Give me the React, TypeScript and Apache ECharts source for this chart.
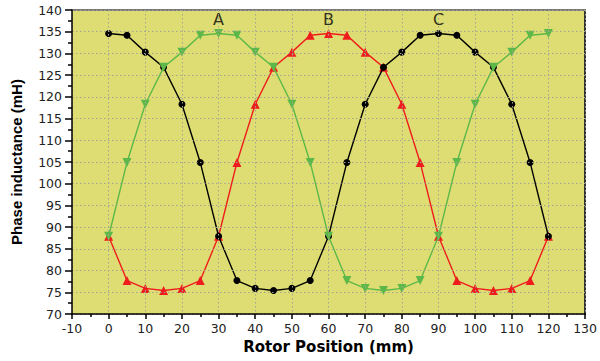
import React, { useEffect, useRef } from "react";
import * as echarts from "echarts";

const positions = [0, 5, 10, 15, 20, 25, 30, 35, 40, 45, 50, 55, 60, 65, 70, 75, 80, 85, 90, 95, 100, 105, 110, 115, 120];
const blackValues = [134.6, 134.2, 130.3, 126.8, 118.3, 104.9, 87.9, 77.7, 75.9, 75.4, 75.9, 77.7, 87.9, 104.9, 118.3, 126.8, 130.3, 134.2, 134.6, 134.2, 130.3, 126.8, 118.3, 104.9, 87.9];
const greenValues = [87.9, 104.9, 118.3, 126.8, 130.3, 134.2, 134.6, 134.2, 130.3, 126.8, 118.3, 104.9, 87.9, 77.7, 75.9, 75.4, 75.9, 77.7, 87.9, 104.9, 118.3, 126.8, 130.3, 134.2, 134.6];
const redValues = [87.9, 77.7, 75.9, 75.4, 75.9, 77.7, 87.9, 104.9, 118.3, 126.8, 130.3, 134.2, 134.6, 134.2, 130.3, 126.8, 118.3, 104.9, 87.9, 77.7, 75.9, 75.4, 75.9, 77.7, 87.9];
const phaseLabels = ["A", "B", "C"];
const phaseLabelX = [30, 60, 90];
const phaseLabelY = 137.9;

const sans = "DejaVu Sans, sans-serif";
const arial = "Liberation Sans, Arial, sans-serif";

export default function App() {
  const ref = useRef<HTMLDivElement>(null);
  useEffect(() => {
    if (!ref.current) return;
    const chart = echarts.init(ref.current, undefined, { renderer: "svg" });
    const pair = (vals: number[]) => positions.map((p, i) => [p, vals[i]]);
    const grid = { show: true, lineStyle: { color: "#a4a494", type: [1.5, 2.5], width: 1 } };
    const frameAxis = (color: string) => ({
      show: true,
      axisLine: { show: true, onZero: false, lineStyle: { color, width: 2 } },
      axisTick: { show: false },
      axisLabel: { show: false },
      splitLine: { show: false },
    });
    chart.setOption({
      animation: false,
      backgroundColor: "#ffffff",
      grid: {
        left: 72, right: 13, top: 10, bottom: 47,
        show: true, backgroundColor: "#dedd74", borderWidth: 0,
      },
      xAxis: [
        {
          type: "value", min: -10, max: 130, interval: 10, position: "bottom",
          name: "Rotor Position (mm)", nameLocation: "middle", nameGap: 25,
          nameTextStyle: { color: "#000", fontSize: 15, fontWeight: "bold", fontFamily: sans },
          axisLine: { show: true, onZero: false, lineStyle: { color: "#000", width: 1.5 } },
          axisTick: { show: true, length: 5, lineStyle: { color: "#000", width: 1.5 } },
          minorTick: { show: true, splitNumber: 2, length: 3, lineStyle: { color: "#000", width: 1.5 } },
          axisLabel: { color: "#222", fontSize: 12.5, fontFamily: sans, margin: 8 },
          splitLine: grid,
          z: 5,
        },
        { type: "value", min: -10, max: 130, position: "top", ...frameAxis("#7a7a7a") },
      ],
      yAxis: [
        {
          type: "value", min: 70, max: 140, interval: 5, position: "left",
          name: "Phase inductance (mH)", nameLocation: "middle", nameGap: 48,
          nameTextStyle: { color: "#000", fontSize: 15, fontWeight: "bold", fontFamily: arial },
          axisLine: { show: true, onZero: false, lineStyle: { color: "#000", width: 1.5 } },
          axisTick: { show: true, length: 7, lineStyle: { color: "#000", width: 1.5 } },
          minorTick: { show: true, splitNumber: 2, length: 4, lineStyle: { color: "#000", width: 1.5 } },
          axisLabel: { color: "#222", fontSize: 12.5, fontFamily: sans, margin: 10 },
          splitLine: grid,
          z: 5,
        },
        { type: "value", min: 70, max: 140, position: "right", ...frameAxis("#333333") },
      ],
      series: [
        {
          type: "line", data: pair(blackValues), symbol: "circle", symbolSize: 7,
          lineStyle: { color: "#000", width: 1.4 }, itemStyle: { color: "#000" }, z: 3,
        },
        {
          type: "line", data: pair(redValues), symbol: "triangle", symbolSize: 9,
          lineStyle: { color: "#ee1c1c", width: 1.4 }, itemStyle: { color: "#ee1c1c" }, z: 2,
        },
        {
          type: "line", data: pair(greenValues), symbol: "triangle", symbolRotate: 180, symbolSize: 9,
          lineStyle: { color: "#5cb848", width: 1.4 }, itemStyle: { color: "#5cb848" }, z: 4,
        },
        {
          type: "scatter", symbolSize: 0, silent: true,
          data: phaseLabels.map((t, i) => ({ value: [phaseLabelX[i], phaseLabelY], name: t })),
          label: {
            show: true, position: "inside", formatter: (p: any) => p.name,
            color: "#000", fontSize: 16, fontFamily: sans,
          },
        },
      ],
    });
    return () => chart.dispose();
  }, []);
  return <div ref={ref} style={{ position: "absolute", left: 0, top: 0, width: 600, height: 361 }} />;
}
